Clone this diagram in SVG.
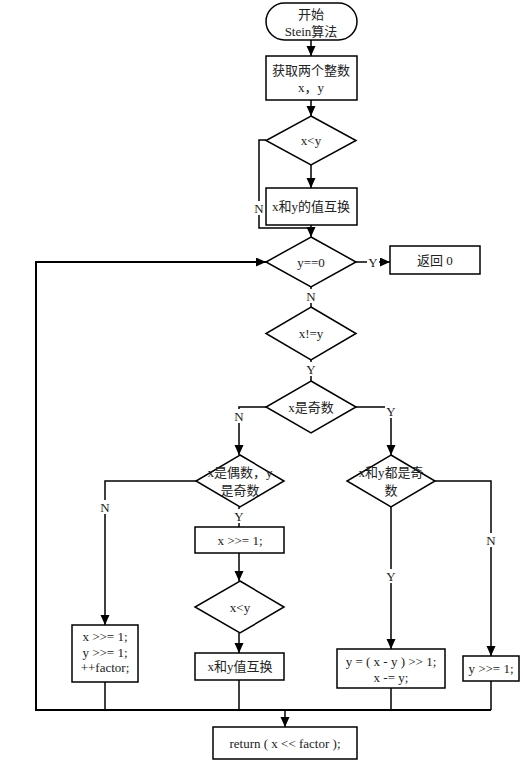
<svg xmlns="http://www.w3.org/2000/svg" width="523" height="764" viewBox="0 0 523 764">
<style>
.n{fill:#fff;stroke:#000;stroke-width:1.5}
.c{fill:none;stroke:#000;stroke-width:1.5}
.t{font-family:"Liberation Serif","Noto Sans CJK SC",serif;font-size:13px;fill:#222;text-anchor:middle;dominant-baseline:central}
.lb{fill:#fff;stroke:none}
</style>
<defs>
<marker id="a" markerUnits="userSpaceOnUse" markerWidth="10" markerHeight="10" refX="10" refY="4.5" orient="auto">
<path d="M0,0 L10,4.5 L0,9 z" fill="#000"/>
</marker>
</defs>
<rect width="523" height="764" fill="#fff"/>
<g id="connectors">
<path class="c" d="M311,40 V56" marker-end="url(#a)"/>
<path class="c" d="M311,100 V116" marker-end="url(#a)"/>
<path class="c" d="M311,165 V188" marker-end="url(#a)"/>
<path class="c" d="M266,140 H259 V228 H311"/>
<path class="c" d="M311,225 V237" marker-end="url(#a)"/>
<path class="c" d="M356,262 H390" marker-end="url(#a)"/>
<path class="c" d="M311,287 V307"/>
<path class="c" d="M311,360 V381"/>
<path class="c" d="M266,407 H239 V455" marker-end="url(#a)"/>
<path class="c" d="M356,407 H391 V455" marker-end="url(#a)"/>
<path class="c" d="M239,507 V527"/>
<path class="c" d="M239,553 V581" marker-end="url(#a)"/>
<path class="c" d="M239,633 V653" marker-end="url(#a)"/>
<path class="c" d="M239,680 V710"/>
<path class="c" d="M196,481 H105 V625" marker-end="url(#a)"/>
<path class="c" d="M105,682 V710"/>
<path class="c" d="M391,507 V649" marker-end="url(#a)"/>
<path class="c" d="M435,481 H491 V656" marker-end="url(#a)"/>
<path class="c" d="M391,688 V710"/>
<path class="c" d="M491,681 V710"/>
<path class="c" d="M491,710 H36 V262 H266" marker-end="url(#a)" style="stroke-width:2"/>
<path class="c" d="M285,710 V727" marker-end="url(#a)"/>
<rect class="lb" x="253" y="201" width="12" height="14"/><text class="t" x="259" y="208">N</text>
<rect class="lb" x="367" y="255" width="12" height="14"/><text class="t" x="373" y="262">Y</text>
<rect class="lb" x="305" y="289" width="12" height="14"/><text class="t" x="311" y="296">N</text>
<rect class="lb" x="305" y="362" width="12" height="14"/><text class="t" x="311" y="369">Y</text>
<rect class="lb" x="233" y="409" width="12" height="14"/><text class="t" x="239" y="416">N</text>
<rect class="lb" x="385" y="404" width="12" height="14"/><text class="t" x="391" y="411">Y</text>
<rect class="lb" x="233" y="509" width="12" height="14"/><text class="t" x="239" y="516">Y</text>
<rect class="lb" x="99" y="500" width="12" height="14"/><text class="t" x="105" y="507">N</text>
<rect class="lb" x="385" y="569" width="12" height="14"/><text class="t" x="391" y="576">Y</text>
<rect class="lb" x="485" y="533" width="12" height="14"/><text class="t" x="491" y="540">N</text>
</g>
<g id="start"><rect class="n" x="266" y="3" width="91" height="37" rx="18.5"/><text class="t" x="311" y="14">开始</text><text class="t" x="311" y="31">Stein算法</text></g>
<g id="input"><rect class="n" x="266" y="56" width="91" height="44"/><text class="t" x="311" y="70">获取两个整数</text><text class="t" x="311" y="87">x，y</text></g>
<g id="cmp1"><polygon class="n" points="311,116 356,140.5 311,165 266,140.5"/><text class="t" x="311" y="140">x&lt;y</text></g>
<g id="swap1"><rect class="n" x="266" y="188" width="91" height="37"/><text class="t" x="311" y="206">x和y的值互换</text></g>
<g id="yzero"><polygon class="n" points="311,237 356,262 311,287 266,262"/><text class="t" x="311" y="262">y==0</text></g>
<g id="ret0"><rect class="n" x="390" y="246" width="90" height="28"/><text class="t" x="435" y="260">返回 0</text></g>
<g id="neq"><polygon class="n" points="311,307 356,333.5 311,360 266,333.5"/><text class="t" x="311" y="333">x!=y</text></g>
<g id="xodd"><polygon class="n" points="311,381 356,407 311,433 266,407"/><text class="t" x="311" y="407">x是奇数</text></g>
<g id="xeven"><polygon class="n" points="240,455 284,481 240,507 196,481"/><text class="t" x="240" y="472">x是偶数，y</text><text class="t" x="240" y="490">是奇数</text></g>
<g id="bothodd"><polygon class="n" points="391,455 435,481 391,507 347,481"/><text class="t" x="391" y="472">x和y都是奇</text><text class="t" x="391" y="490">数</text></g>
<g id="shiftx"><rect class="n" x="195" y="527" width="89" height="26"/><text class="t" x="240" y="540">x &gt;&gt;= 1;</text></g>
<g id="cmp2"><polygon class="n" points="240,581 284,607 240,633 195,607"/><text class="t" x="240" y="607">x&lt;y</text></g>
<g id="swap2"><rect class="n" x="195" y="653" width="89" height="27"/><text class="t" x="240" y="666">x和y值互换</text></g>
<g id="both"><rect class="n" x="72" y="625" width="66" height="57"/><text class="t" x="105" y="636">x &gt;&gt;= 1;</text><text class="t" x="105" y="652">y &gt;&gt;= 1;</text><text class="t" x="105" y="667">++factor;</text></g>
<g id="sub"><rect class="n" x="337" y="649" width="108" height="39"/><text class="t" x="391" y="661">y = ( x - y ) &gt;&gt; 1;</text><text class="t" x="391" y="677">x -= y;</text></g>
<g id="shifty"><rect class="n" x="463" y="656" width="56" height="25"/><text class="t" x="491" y="668">y &gt;&gt;= 1;</text></g>
<g id="ret"><rect class="n" x="213" y="727" width="144" height="32"/><text class="t" x="285" y="743">return ( x &lt;&lt; factor );</text></g>
</svg>
